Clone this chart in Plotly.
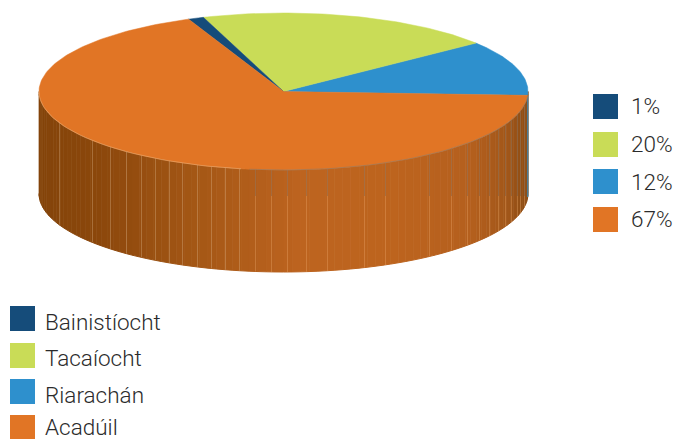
import numpy as np
import plotly.graph_objects as go

names = ["Bainistíocht", "Tacaíocht", "Riarachán", "Acadúil"]
percents = [1, 20, 12, 67]
colors = ["#154c7a", "#c9dc57", "#2e90cd", "#e17525"]

W, H = 677, 439
CX, CY, RX, RY, DEPTH = 283.5, 91.5, 244.5, 78.5, 102
START = -3.0   # where Riarachán begins, degrees counter-clockwise from the right
WARP = 3.3     # perspective squeeze of the far side

def warp(t):
    return t - WARP * np.sin(np.radians(t))

def px(t):
    return CX + RX * np.cos(np.radians(t))

def py(t, drop=0.0):
    return CY - RY * np.sin(np.radians(t)) + drop

fig = go.Figure()

def poly(xs, ys, fill, line=None, width=1):
    fig.add_trace(go.Scatter(x=xs, y=ys, mode="lines", fill="toself", fillcolor=fill,
                             line=dict(color=line or fill, width=width),
                             hoverinfo="skip", showlegend=False))

def seg(xs, ys, color, width=1):
    fig.add_trace(go.Scatter(x=xs, y=ys, mode="lines", line=dict(color=color, width=width),
                             hoverinfo="skip", showlegend=False))

# Slice order round the pie, counter-clockwise: Riarachán, Tacaíocht, Bainistíocht, Acadúil
order = [2, 1, 0, 3]
angle = START
spans = {}
for i in order:
    sweep = percents[i] * 3.6
    spans[i] = (angle, angle + sweep)
    angle += sweep

# Side wall of the visible front half (belongs to Acadúil), shaded by horizontal position
sx = [39, 100, 200, 300, 400, 470, 505, 528]
sr = [0x84, 0x8c, 0xa6, 0xbd, 0xbd, 0xb5, 0xa4, 0x8c]
sg = [0x44, 0x48, 0x58, 0x64, 0x64, 0x60, 0x58, 0x4c]
sb = [0x0a, 0x0c, 0x16, 0x20, 0x1e, 0x1e, 0x1a, 0x14]

ts = np.arange(180, 361, 2.0)
for a, b in zip(ts[:-1], ts[1:]):
    tt = np.linspace(a, b, 3)
    xs = list(px(tt)) + list(px(tt[::-1]))
    ys = list(py(tt)) + list(py(tt[::-1], DEPTH))
    m = px((a + b) / 2)
    col = "rgb(%d,%d,%d)" % (np.interp(m, sx, sr), np.interp(m, sx, sg), np.interp(m, sx, sb))
    poly(xs, ys, col)

# Thin blue edge at the far right of the wall
seg([527.8, 527.8], [96, 197], colors[2], 1)

# Facet lines on the wall
facet_x = [59, 92, 110, 126, 141, 155, 169, 182, 197, 211, 225, 239, 255, 271, 287, 306, 327,
           364, 385, 429, 451, 467, 479, 489, 498, 505, 511, 517, 520, 524]
SPLIT_Y = 196
for x in facet_x:
    t = -np.degrees(np.arccos((x - CX) / RX))
    top, bot = py(t), py(t, DEPTH)
    xc = x + 0.5
    if x < 250:
        seg([xc, xc], [top, bot], "rgba(225,190,150,0.42)", 0.8)
    else:
        seg([xc, xc], [top, SPLIT_Y], "rgba(135,125,115,0.5)", 0.8)
        seg([xc, xc], [SPLIT_Y, bot], "rgba(240,175,115,0.42)", 0.8)

# Top face
for i in order:
    a, b = spans[i]
    tt = warp(np.linspace(a, b, max(int(b - a), 2) + 1))
    poly([CX] + list(px(tt)) + [CX], [CY] + list(py(tt)) + [CY], colors[i], width=0.5)

# Rim highlight on the front edge
tt = np.arange(180, 262, 2.0)
seg(list(px(tt)), list(py(tt)), "rgba(240,190,140,0.6)", 0.8)
tt = np.arange(262, 358, 2.0)
seg(list(px(tt)), list(py(tt)), "rgba(140,125,110,0.7)", 0.8)

# Legend squares
pct_y = [106.5, 144.5, 181.5, 219.5]
name_y = [318.5, 355.5, 391.5, 427.5]
for i in range(4):
    fig.add_trace(go.Scatter(x=[605.5, 22.5], y=[pct_y[i], name_y[i]], mode="markers",
                             marker=dict(symbol="square", size=25, color=colors[i], line=dict(width=0)),
                             hoverinfo="skip", showlegend=False))

ann = []
font = dict(family="Roboto", size=22.5, color="#2b2b2b", weight=300)
pct_text_y = [106, 144, 182, 219]
name_text_y = [322, 358, 395, 427]
for i in range(4):
    ann.append(dict(x=629, y=pct_text_y[i], text=f"{percents[i]}%", showarrow=False,
                    xanchor="left", yanchor="middle", font=font))
    ann.append(dict(x=43, y=name_text_y[i], text=names[i], showarrow=False,
                    xanchor="left", yanchor="middle", font=font))

fig.update_layout(
    width=W, height=H, margin=dict(l=0, r=0, t=0, b=0),
    paper_bgcolor="white", plot_bgcolor="white", showlegend=False, annotations=ann,
    xaxis=dict(range=[0, W], visible=False, fixedrange=True),
    yaxis=dict(range=[H, 0], visible=False, fixedrange=True),
)
fig.write_html("out.html", config=dict(displayModeBar=False),
               post_script="document.body.style.margin='0';document.body.style.overflow='hidden';")
